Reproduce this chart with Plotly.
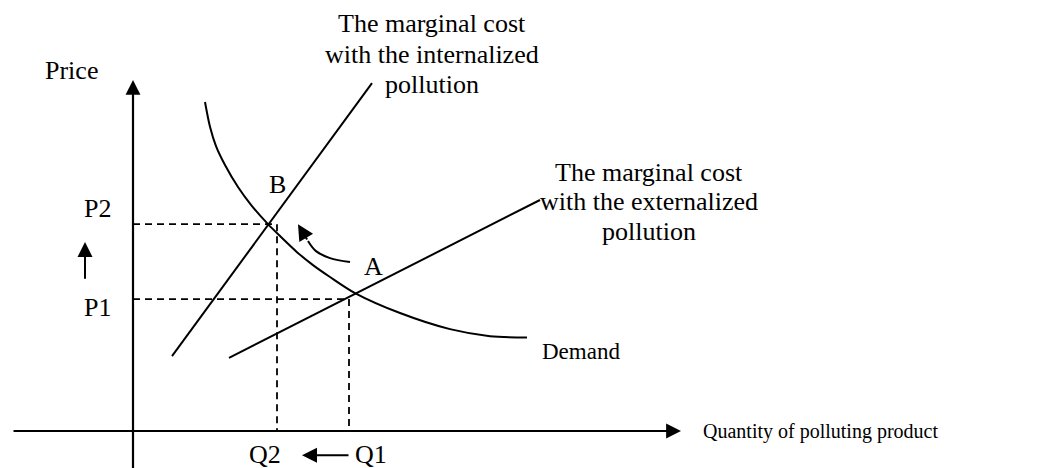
import plotly.graph_objects as go

# ---- data (conceptual units: quantity on x, price on y) ----
demand_q = [1.44, 1.54, 1.66, 1.84, 2.10, 2.36, 2.70, 2.94, 3.28, 3.60, 3.94, 4.44, 5.34, 6.34, 7.14, 7.88]
demand_p = [9.40, 8.69, 8.14, 7.60, 6.97, 6.46, 5.91, 5.57, 5.11, 4.74, 4.40, 3.94, 3.37, 2.91, 2.71, 2.67]

mc_int_q = [0.78, 4.78]
mc_int_p = [2.14, 9.94]

mc_ext_q = [1.92, 8.14]
mc_ext_p = [2.09, 6.60]

Q2, Q1 = 2.88, 4.32
P2, P1 = 5.91, 3.77

# curved arrow (shift from A towards B)
shift_q = [4.34, 3.94, 3.66, 3.50]
shift_p = [4.83, 4.94, 5.14, 5.43]
shift_tip = (3.30, 5.91)

# axes extents
x_axis_q = [-2.42, 10.96]
y_axis_p = [-1.3, 10.03]

# small arrows
price_up_q = -0.96
price_up_p = [4.31, 5.40]
qty_left_p = -0.69
qty_left_q = [4.34, 3.38]

FONT = "Liberation Serif"

fig = go.Figure()

line_style = dict(color="black", width=2)
dash_style = dict(color="black", width=1.8, dash="7px,5px")

fig.add_trace(go.Scatter(x=demand_q, y=demand_p, mode="lines",
                         line=dict(color="black", width=2, shape="spline", smoothing=0.8)))
fig.add_trace(go.Scatter(x=mc_int_q, y=mc_int_p, mode="lines", line=line_style))
fig.add_trace(go.Scatter(x=mc_ext_q, y=mc_ext_p, mode="lines", line=line_style))

# dashed guide lines
fig.add_trace(go.Scatter(x=[0, Q2, Q2], y=[P2, P2, 0], mode="lines", line=dash_style))
fig.add_trace(go.Scatter(x=[0, Q1, Q1], y=[P1, P1, 0], mode="lines", line=dash_style))

# curved arrow body
fig.add_trace(go.Scatter(x=shift_q, y=shift_p, mode="lines",
                         line=dict(color="black", width=2, shape="spline", smoothing=1.0)))

arrow_common = dict(xref="x", yref="y", axref="x", ayref="y", text="",
                    showarrow=True, arrowhead=2, arrowcolor="black")

annotations = [
    dict(x=x_axis_q[1], y=0, ax=x_axis_q[0], ay=0, arrowwidth=2.2, arrowsize=1.35, **arrow_common),
    dict(x=0, y=y_axis_p[1], ax=0, ay=y_axis_p[0], arrowwidth=2.2, arrowsize=1.35, **arrow_common),
    dict(x=price_up_q, y=price_up_p[1], ax=price_up_q, ay=price_up_p[0], arrowwidth=2, arrowsize=1.5, **arrow_common),
    dict(x=qty_left_q[1], y=qty_left_p, ax=qty_left_q[0], ay=qty_left_p, arrowwidth=2, arrowsize=1.5, **arrow_common),
    dict(x=shift_tip[0], y=shift_tip[1], ax=shift_q[-1], ay=shift_p[-1], arrowwidth=2, arrowsize=1.6, **arrow_common),
]

labels = [
    ("Price", -1.24, 10.31, 26),
    ("P2", -0.72, 6.37, 26),
    ("P1", -0.72, 3.54, 26),
    ("B", 2.88, 7.03, 26),
    ("A", 4.80, 4.71, 26),
    ("Q2", 2.64, -0.66, 26),
    ("Q1", 4.76, -0.66, 26),
    ("The marginal cost", 5.98, 11.64, 26),
    ("with the internalized", 5.98, 10.77, 26),
    ("pollution", 5.98, 9.89, 26),
    ("The marginal cost", 10.32, 7.40, 26),
    ("with the externalized", 10.32, 6.57, 26),
    ("pollution", 10.32, 5.71, 26),
    ("Demand", 8.95, 2.26, 23),
    ("Quantity of polluting product", 13.75, 0.0, 20),
]
for txt, x, y, size in labels:
    annotations.append(dict(x=x, y=y, xref="x", yref="y", text=txt, showarrow=False,
                            xanchor="center", yanchor="middle",
                            font=dict(family=FONT, size=size, color="black")))

fig.update_layout(
    width=1048, height=468, autosize=False,
    margin=dict(l=0, r=0, t=0, b=0),
    paper_bgcolor="white", plot_bgcolor="white",
    showlegend=False,
    xaxis=dict(range=[-2.66, 18.3], visible=False, fixedrange=True),
    yaxis=dict(range=[-1.057, 12.314], visible=False, fixedrange=True),
    annotations=annotations,
)

fig.write_html(
    "out.html",
    config={"displayModeBar": False},
    post_script="document.body.style.margin='0';document.body.style.overflow='hidden';",
)
